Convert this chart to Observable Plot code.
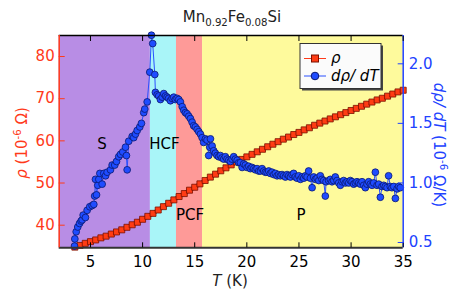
<!DOCTYPE html>
<html><head><meta charset="utf-8">
<script src="https://cdn.jsdelivr.net/npm/d3@7"></script>
<script src="https://cdn.jsdelivr.net/npm/@observablehq/plot@0.6"></script>
<style>body{margin:0;background:#fff} svg{display:block}</style>
</head><body><div id="chart"></div>
<script>
// ---- data ----
const rhoT = [3.5,4,4.5,5,5.5,6,6.5,7,7.5,8,8.5,9,9.5,10,10.5,11,11.5,12,12.5,13,13.5,14,14.5,15,15.5,16,16.5,17,17.5,18,18.5,19,19.5,20,20.5,21,21.5,22,22.5,23,23.5,24,24.5,25,25.5,26,26.5,27,27.5,28,28.5,29,29.5,30,30.5,31,31.5,32,32.5,33,33.5,34,34.5,35];
const rhoV = [34.8,35.2,35.7,36.1,36.5,37.0,37.4,37.9,38.4,38.9,39.5,40.1,40.7,41.4,42.1,42.8,43.6,44.4,45.2,46.0,46.8,47.5,48.3,49.0,49.8,50.6,51.4,52.1,52.9,53.6,54.3,55.0,55.6,56.2,56.8,57.4,58.0,58.6,59.2,59.8,60.4,60.9,61.5,62.0,62.6,63.1,63.7,64.2,64.7,65.2,65.7,66.2,66.7,67.2,67.7,68.2,68.7,69.2,69.7,70.1,70.6,71.1,71.6,72.0];
const dT = [3.47,3.5,3.63,3.78,3.95,4.1,4.2,4.3,4.52,4.68,4.93,5.16,5.32,5.4,5.48,5.58,5.7,5.8,5.9,6.12,6.28,6.45,6.6,6.92,7.08,7.33,7.5,7.71,7.88,8.1,8.36,8.45,8.52,8.67,9.0,9.15,9.32,9.48,9.73,9.89,10.11,10.21,10.44,10.69,10.85,10.97,11.17,11.23,11.4,11.55,11.71,11.88,12.03,12.2,12.35,12.5,12.67,12.83,12.99,13.15,13.31,13.47,13.63,13.8,13.95,14.11,14.27,14.43,14.59,14.75,14.9,15.06,15.23,15.39,15.55,15.71,15.86,16.03,16.18,16.34,16.44,16.51,16.67,16.82,16.98,17.14,17.3,17.46,17.62,17.78,17.94,18.1,18.26,18.42,18.58,18.74,18.9,19.07,19.22,19.38,19.55,19.7,19.86,20.02,20.18,20.34,20.5,20.66,20.82,20.98,21.14,21.3,21.46,21.62,21.78,21.94,22.1,22.26,22.42,22.58,22.74,22.9,23.06,23.22,23.38,23.53,23.7,23.86,24.02,24.18,24.34,24.49,24.65,24.82,24.98,25.14,25.3,25.46,25.62,25.78,25.93,26.1,26.26,26.41,26.58,26.74,26.9,27.05,27.21,27.37,27.53,27.6,27.85,28.01,28.17,28.33,28.49,28.65,28.81,28.97,29.13,29.29,29.45,29.61,29.77,29.93,30.09,30.25,30.41,30.57,30.73,30.89,31.05,31.21,31.37,31.53,31.69,31.85,32.01,32.17,32.33,32.49,32.65,32.81,32.97,33.13,33.29,33.45,33.6,33.76,33.92,34.09,34.25,34.41,34.57,34.72];
const dV = [0.47,0.53,0.59,0.63,0.66,0.68,0.69,0.73,0.71,0.77,0.80,0.81,0.82,0.89,1.03,0.90,0.98,1.03,1.08,0.99,1.08,1.06,1.09,1.11,1.15,1.15,1.18,1.22,1.24,1.26,1.30,1.23,1.11,1.35,1.39,1.38,1.41,1.44,1.47,1.50,1.59,1.62,1.68,1.93,2.24,2.17,1.91,1.76,1.74,1.73,1.70,1.72,1.75,1.73,1.72,1.71,1.69,1.71,1.72,1.70,1.71,1.70,1.68,1.64,1.61,1.59,1.58,1.56,1.54,1.51,1.48,1.47,1.45,1.43,1.41,1.38,1.34,1.37,1.36,1.23,1.30,1.37,1.31,1.27,1.25,1.23,1.22,1.23,1.21,1.20,1.22,1.20,1.19,1.18,1.20,1.22,1.20,1.19,1.17,1.17,1.13,1.16,1.15,1.13,1.14,1.12,1.13,1.12,1.11,1.12,1.10,1.10,1.12,1.10,1.09,1.09,1.10,1.08,1.09,1.07,1.08,1.06,1.07,1.06,1.07,1.06,1.05,1.07,1.06,1.05,1.07,1.08,1.05,1.04,1.06,1.03,1.05,1.04,1.06,1.05,1.10,1.04,0.96,1.05,1.03,1.04,1.02,1.06,1.03,1.02,0.89,1.01,1.02,1.03,1.01,1.02,1.05,1.02,1.00,0.98,1.01,1.02,1.00,1.01,1.00,1.02,1.01,0.99,1.00,1.01,1.00,0.99,1.01,0.98,0.96,0.99,1.01,0.99,0.98,1.00,1.09,0.98,0.99,0.88,0.97,0.98,0.97,0.96,1.06,0.97,0.96,0.97,0.87,0.95,0.97,0.96];
const bandNames = ["S","HCF","PCF","P"];
const bandStart = [2,10.75,13.25,15.75];
const bandEnd = [10.75,13.25,15.75,35];
const xTicks = [5,10,15,20,25,30,35];
const leftTicks = [40,50,60,70,80];
const rightTicks = [0.5,1.0,1.5,2.0];

// ---- styles / layout ----
const bandFill = ["#b88de5","#a9f5f8","#fe9a98","#fefa9c"];
const bandLabelX = [6.1,12.1,14.55,25.2];
const bandLabelY = [59.3,59.3,42.3,42.3];
const RED = "#ff3a1a", BLUE = "#2142ff";
const L = [34.64, 84.98];   // left axis domain
const R = [0.4555, 2.2376]; // right axis domain
const toL = v => L[0] + (v - R[0]) * (L[1] - L[0]) / (R[1] - R[0]);
const toR = y => R[0] + (y - L[0]) * (R[1] - R[0]) / (L[1] - L[0]);

const bands = bandNames.map((n,i)=>({name:n,start:bandStart[i],end:bandEnd[i],fill:bandFill[i],lx:bandLabelX[i],ly:bandLabelY[i]}));
const rho = rhoT.map((t,i)=>({T:t,v:rhoV[i]}));
const drho = dT.map((t,i)=>({T:t,v:toL(dV[i])}));

const plot = Plot.plot({
  width:464, height:295,
  marginLeft:58.7, marginRight:61.3, marginTop:35, marginBottom:47.7,
  style:{fontFamily:"DejaVu Sans", fontSize:"15px", background:"white", overflow:"visible"},
  x:{domain:[2,35]},
  y:{domain:L},
  marks:[
    Plot.rect(bands,{x1:"start",x2:"end",fill:"fill"}),
    Plot.text(bands,{x:"lx",y:"ly",text:"name",fill:"black",fontSize:15}),
    Plot.line(rho,{x:"T",y:"v",stroke:"#b01400",strokeWidth:4}),
    Plot.dot(rho,{x:"T",y:"v",symbol:"square",r:3.4,fill:"#ff3c14",stroke:"#7a1000",strokeWidth:0.8}),
    Plot.line(drho,{x:"T",y:"v",stroke:"#2a50ff",strokeWidth:1}),
    Plot.dot(drho,{x:"T",y:"v",r:3.4,fill:"#1f4cff",stroke:"#0a1870",strokeWidth:0.8}),
    Plot.ruleY([L[1]],{stroke:"black",strokeWidth:1.5}),
    Plot.ruleY([L[0]],{stroke:"#333",strokeWidth:2}),
    Plot.ruleX([2],{stroke:RED,strokeWidth:1.5}),
    Plot.ruleX([35],{stroke:BLUE,strokeWidth:1.5}),
    Plot.axisX({ticks:xTicks, anchor:"bottom", tickSize:-5, tickPadding:14, label:null, color:"black"}),
    Plot.axisX({ticks:xTicks, anchor:"top", tickSize:-5, tickFormat:()=>"", label:null, color:"black"}),
    Plot.axisY({ticks:leftTicks, anchor:"left", tickSize:-6, tickPadding:10.5, label:null, color:RED}),
    Plot.axisY(rightTicks.map(toL), {anchor:"right", tickSize:-6, tickPadding:11.5, label:null, color:BLUE,
      tickFormat: y => toR(y).toFixed(1)})
  ]
});
document.getElementById("chart").appendChild(plot);

// ---- rich text (title, axis labels, legend) ----
const svg = d3.select(plot);
const font = "DejaVu Sans";
function rich(g, parts, size){
  const t = g.append("text").attr("font-family",font).attr("font-size",size);
  let shift = 0;
  parts.forEach(p=>{
    const ts = t.append("tspan").text(p.t);
    const s = p.sub ? 4 : p.sup ? -6 : 0;
    ts.attr("dy", s - shift); shift = s;
    if (p.sub || p.sup) ts.attr("font-size", size*0.68);
    if (p.i) ts.attr("font-style","italic");
  });
  return t;
}
// title
rich(svg.append("g").attr("transform","translate(232,21.5)"),
  [{t:"Mn"},{t:"0.92",sub:1},{t:"Fe"},{t:"0.08",sub:1},{t:"Si"}],15)
  .attr("text-anchor","middle").attr("fill","#222");
// x label
rich(svg.append("g").attr("transform","translate(230,286)"),
  [{t:"T",i:1},{t:" (K)"}],15).attr("text-anchor","middle").attr("fill","#222");
// left label
rich(svg.append("g").attr("transform","translate(27,143) rotate(-90)"),
  [{t:"ρ",i:1},{t:" (10"},{t:"-6",sup:1},{t:" Ω)"}],15).attr("text-anchor","middle").attr("fill",RED);
// right label
rich(svg.append("g").attr("transform","translate(434,145) rotate(90)"),
  [{t:"dρ/ dT",i:1},{t:" (10"},{t:"-6",sup:1},{t:" Ω/K)"}],15).attr("text-anchor","middle").attr("fill",BLUE);
// legend
const lg = svg.append("g").attr("transform","translate(300,43.5)").attr("text-anchor","start");
lg.append("rect").attr("x",2).attr("y",2).attr("width",81).attr("height",45).attr("fill","#444");
lg.append("rect").attr("width",81).attr("height",45).attr("fill","#fbfbfb").attr("stroke","#333").attr("stroke-width",1);
lg.append("line").attr("x1",4).attr("x2",26).attr("y1",15).attr("y2",15).attr("stroke","#ff3a1a").attr("stroke-width",1);
lg.append("rect").attr("x",11.5).attr("y",11.5).attr("width",7).attr("height",7).attr("fill","#ff3c14").attr("stroke","#7a1000");
lg.append("line").attr("x1",4).attr("x2",26).attr("y1",32.5).attr("y2",32.5).attr("stroke","#2a50ff").attr("stroke-width",1);
lg.append("circle").attr("cx",15).attr("cy",32.5).attr("r",3.8).attr("fill","#1f4cff").attr("stroke","#0a1870");
lg.append("text").attr("x",31).attr("y",19.5).attr("font-family",font).attr("font-size",15).attr("font-style","italic").attr("text-anchor","start").text("ρ");
lg.append("text").attr("x",31).attr("y",37.5).attr("font-family",font).attr("font-size",15).attr("font-style","italic").attr("text-anchor","start").text("dρ/ dT");
</script></body></html>
